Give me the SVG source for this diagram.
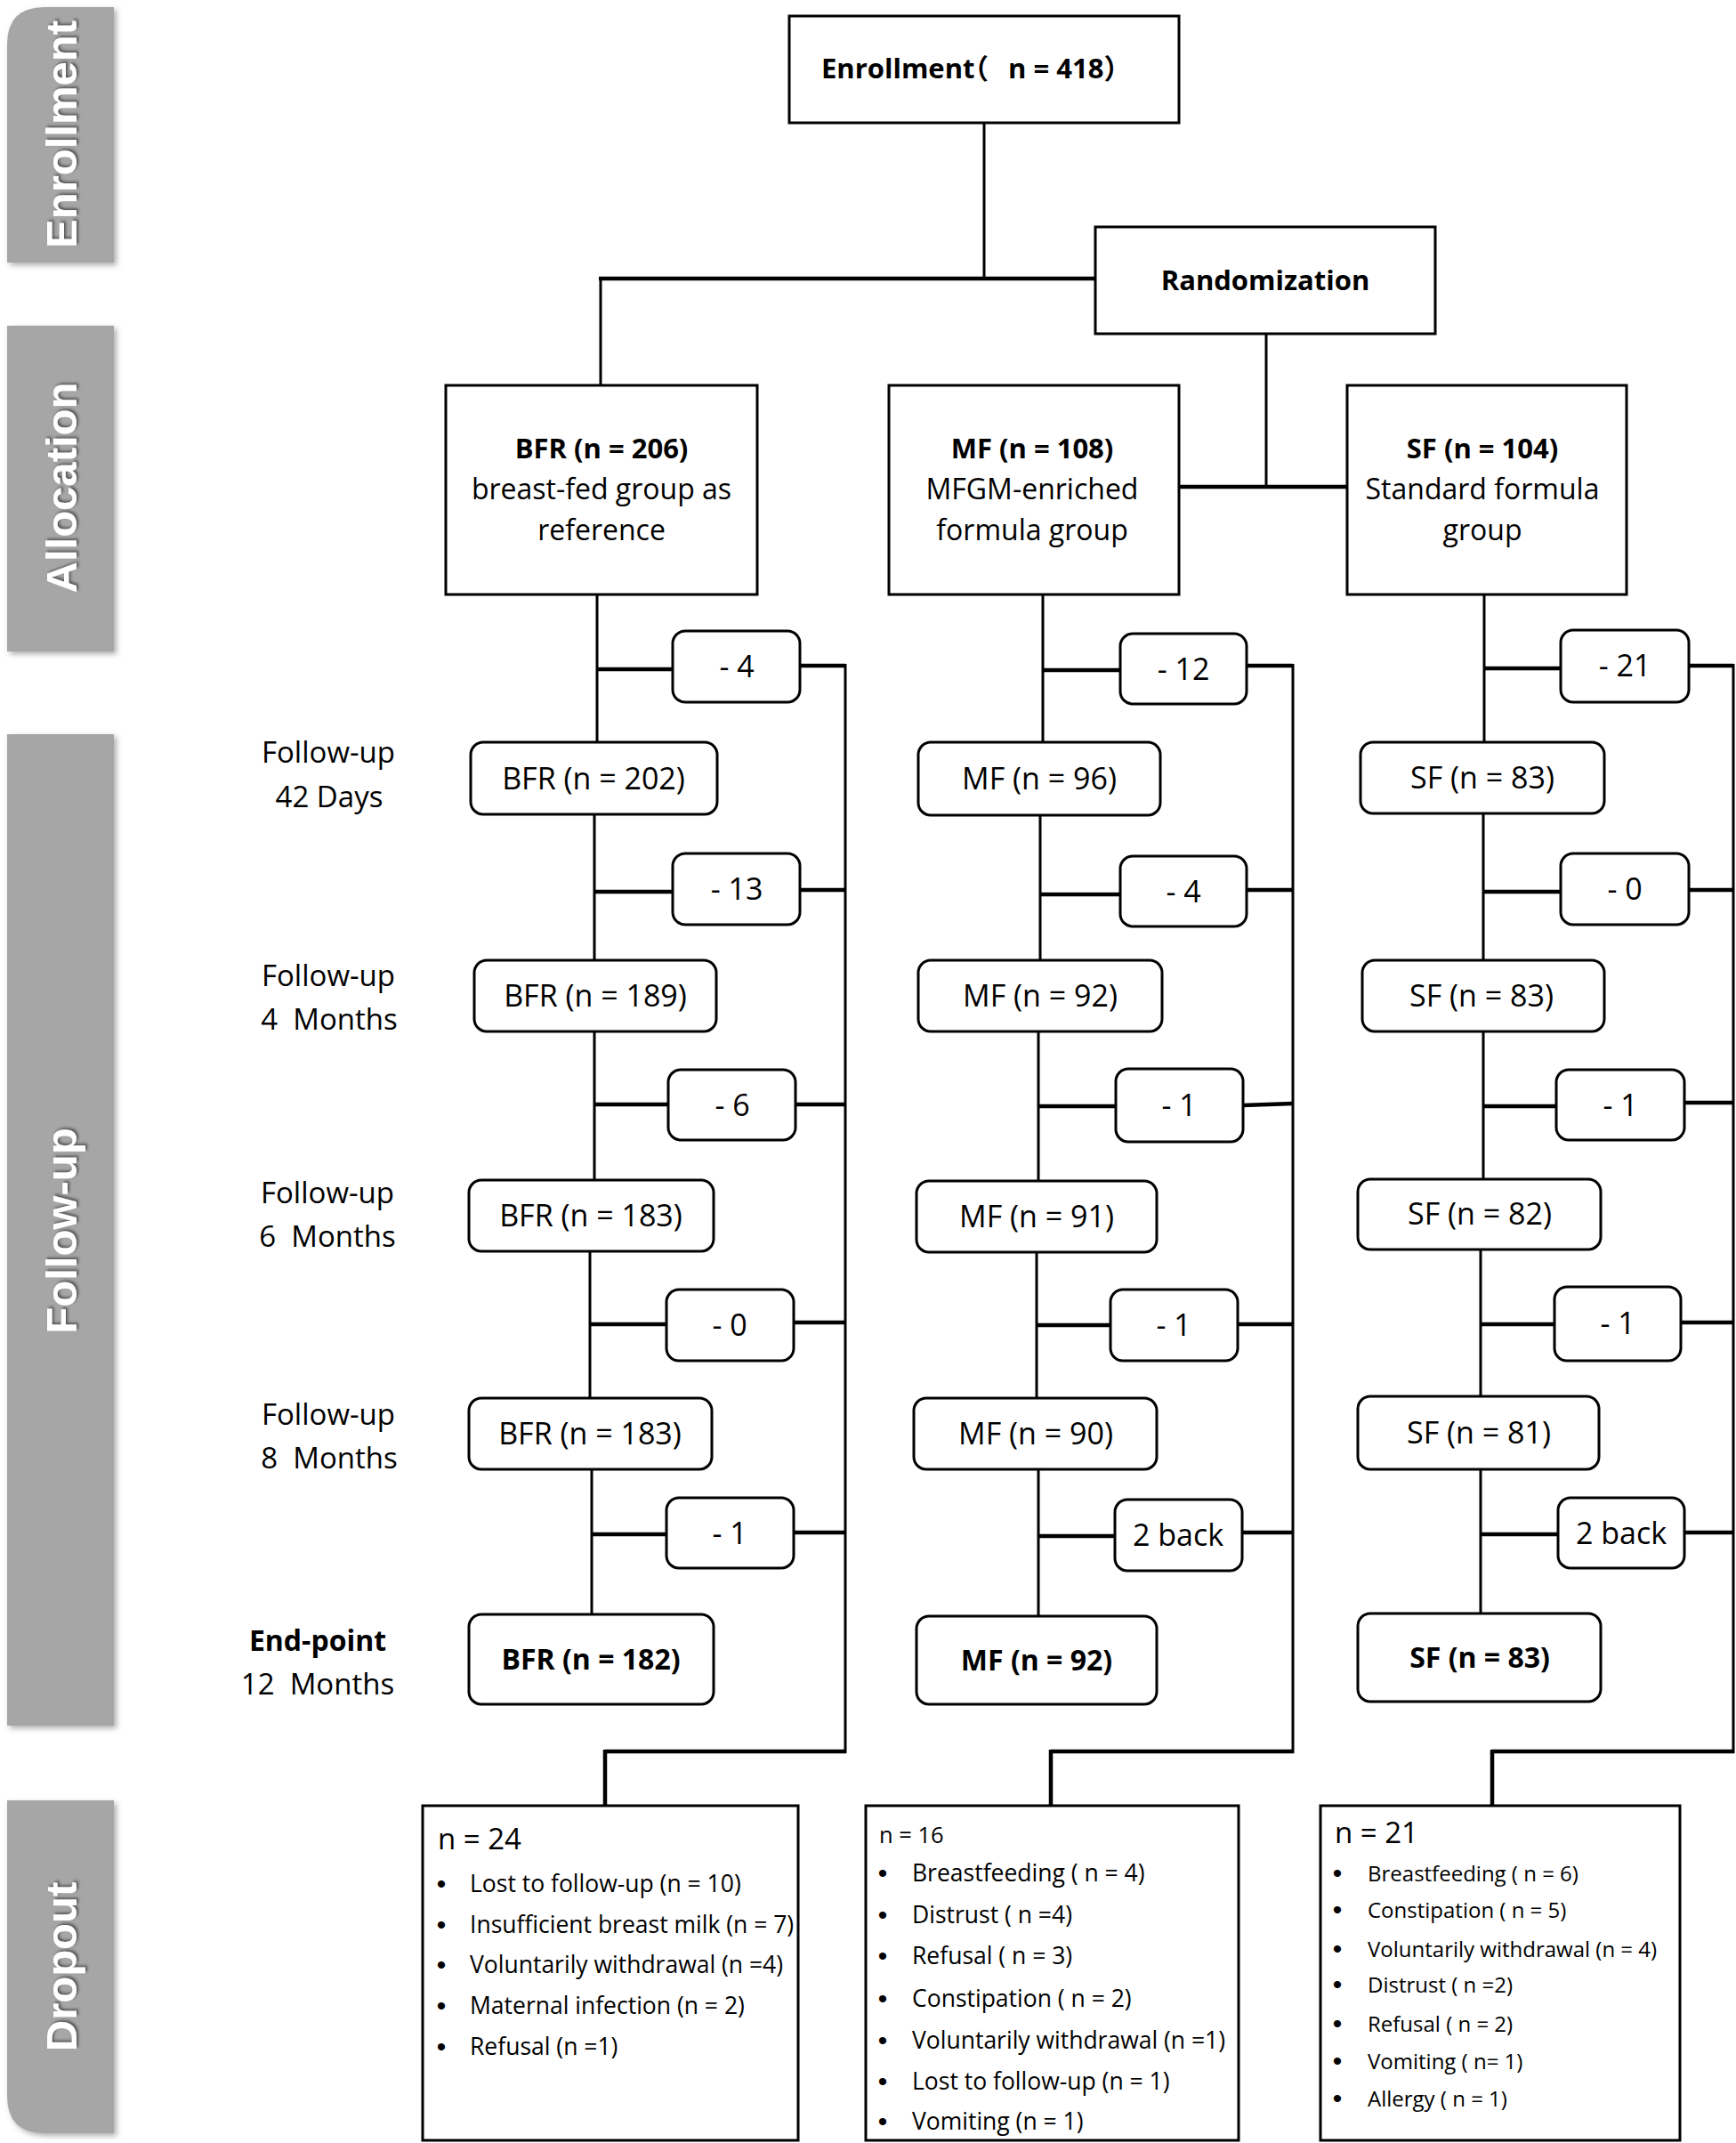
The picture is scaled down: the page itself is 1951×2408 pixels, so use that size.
<svg xmlns="http://www.w3.org/2000/svg" width="1951" height="2408" viewBox="0 0 1951 2408">
<defs>
<filter id="barShadow" x="-20%" y="-5%" width="140%" height="110%">
<feDropShadow dx="3" dy="3" stdDeviation="3" flood-color="#777" flood-opacity="0.6"/>
</filter>
<filter id="txtShadow" x="-20%" y="-20%" width="140%" height="140%">
<feDropShadow dx="2" dy="2" stdDeviation="1.5" flood-color="#333" flood-opacity="0.7"/>
</filter>
</defs>
<style>
.box{fill:#fff;stroke:#000;stroke-width:3}
.v{stroke:#000;stroke-width:3;fill:none}
.h{stroke:#000;stroke-width:4.5;fill:none}
.t{font-family:"Open Sans","Noto Sans CJK SC",sans-serif;fill:#000}
.c{text-anchor:middle}
.b{font-weight:bold}
.bar{fill:#a6a6a6;filter:url(#barShadow)}
.side{font-family:"Liberation Sans",Arial,sans-serif;font-weight:bold;font-size:49px;fill:#fff;text-anchor:middle;filter:url(#txtShadow)}
.lab{font-size:33px}
.fb{font-size:34px}
.al{font-size:32px}
.dl{font-size:26.5px}
.ds{font-size:24px}
.bul{font-family:"Liberation Sans",Arial,sans-serif;font-size:30px;text-anchor:middle;fill:#000}
.halt{font-feature-settings:"halt"}
</style>
<rect width="1951" height="2408" fill="#fff"/>

<g id="phase-bars">
<g id="bar-enrollment">
<path class="bar" d="M8 50 Q8 8 50 8 L128 8 L128 295 L8 295 Z"/>
<text class="side" transform="translate(86,151) rotate(-90)">Enrollment</text>
</g>
<g id="bar-allocation">
<rect class="bar" x="8" y="366" width="120" height="366"/>
<text class="side" transform="translate(86,548) rotate(-90)">Allocation</text>
</g>
<g id="bar-followup">
<rect class="bar" x="8" y="825" width="120" height="1114"/>
<text class="side" transform="translate(86,1383) rotate(-90)">Follow-up</text>
</g>
<g id="bar-dropout">
<path class="bar" d="M8 2023 L128 2023 L128 2397 L50 2397 Q8 2397 8 2355 Z"/>
<text class="side" transform="translate(86,2210) rotate(-90)">Dropout</text>
</g>
</g>

<g id="connectors">
<path class="v" d="M1106 138 V313"/>
<path class="h" d="M673 313 H1231"/>
<path class="v" d="M675 313 V433"/>
<path class="v" d="M1423 375 V547"/>
<path class="h" d="M1325 547 H1514"/>

<path class="v" d="M671 668 V834 M668 915 V1079 M668 1159 V1326 M663 1406 V1571 M665 1651 V1814"/>
<path class="h" d="M671 752 H756 M668 1002 H756 M668 1241 H751 M663 1488 H749 M665 1724 H749"/>
<path class="h" d="M899 748 H950 M899 1000 H950 M894 1241 H950 M892 1486 H950 M892 1722 H950"/>
<path class="v" d="M950 746 V1970"/>
<path class="h" d="M951 1968 H680 M680 1966 V2029"/>

<path class="v" d="M1172 668 V834 M1169 916 V1079 M1167 1159 V1327 M1165 1407 V1571 M1167 1651 V1816"/>
<path class="h" d="M1172 753 H1259 M1169 1005 H1259 M1167 1243 H1254 M1165 1489 H1248 M1167 1726 H1253"/>
<path class="h" d="M1401 748 H1453 M1401 1000 H1453 M1397 1242 L1453 1240 M1391 1488 H1453 M1396 1722 H1453"/>
<path class="v" d="M1453 746 V1970"/>
<path class="h" d="M1454 1968 H1181 M1181 1966 V2029"/>

<path class="v" d="M1668 668 V834 M1667 914 V1079 M1667 1159 V1325 M1664 1404 V1569 M1664 1651 V1813"/>
<path class="h" d="M1668 751 H1754 M1667 1002 H1754 M1667 1243 H1749 M1664 1488 H1747 M1664 1724 H1751"/>
<path class="h" d="M1898 748 H1948 M1898 1000 H1948 M1893 1239 H1948 M1889 1486 H1948 M1893 1722 H1948"/>
<path class="v" d="M1948 746 V1970"/>
<path class="h" d="M1949 1968 H1677 M1677 1966 V2029"/>
</g>

<g id="enrollment">
<rect class="box" x="887" y="18" width="438" height="120"/>
<text class="t b" x="923" y="88" font-size="31">Enrollment<tspan class="halt">（</tspan><tspan dx="14"> n = 418）</tspan></text>
</g>
<g id="randomization">
<rect class="box" x="1231" y="255" width="382" height="120"/>
<text class="t b c" x="1422" y="326" font-size="31">Randomization</text>
</g>

<g id="alloc-bfr">
<rect class="box" x="501" y="433" width="350" height="235"/>
<text class="t c al" x="676" y="515"><tspan class="b" font-size="31">BFR (n = 206)</tspan><tspan x="676" y="561">breast-fed group as</tspan><tspan x="676" y="607">reference</tspan></text>
</g>
<g id="alloc-mf">
<rect class="box" x="999" y="433" width="326" height="235"/>
<text class="t c al" x="1160" y="515"><tspan class="b" font-size="31">MF (n = 108)</tspan><tspan x="1160" y="561">MFGM-enriched</tspan><tspan x="1160" y="607">formula group</tspan></text>
</g>
<g id="alloc-sf">
<rect class="box" x="1514" y="433" width="314" height="235"/>
<text class="t c al" x="1666" y="515"><tspan class="b" font-size="31">SF (n = 104)</tspan><tspan x="1666" y="561">Standard formula</tspan><tspan x="1666" y="607">group</tspan></text>
</g>

<g id="labels">
<text class="t c lab" x="369" y="857">Follow-up</text>
<text class="t c lab" x="370" y="907">42 Days</text>
<text class="t c lab" x="369" y="1108">Follow-up</text>
<text class="t c lab" x="370" y="1157" xml:space="preserve">4  Months</text>
<text class="t c lab" x="368" y="1352">Follow-up</text>
<text class="t c lab" x="368" y="1401" xml:space="preserve">6  Months</text>
<text class="t c lab" x="369" y="1601">Follow-up</text>
<text class="t c lab" x="370" y="1650" xml:space="preserve">8  Months</text>
<text class="t c b" x="357" y="1855" font-size="32">End-point</text>
<text class="t c lab" x="357" y="1904" xml:space="preserve">12  Months</text>
</g>

<g id="bfr-42d"><rect class="box" x="529" y="834" width="277" height="81" rx="14"/><text class="t c fb" x="667" y="887">BFR (n = 202)</text></g>
<g id="bfr-4m"><rect class="box" x="533" y="1079" width="272" height="80" rx="14"/><text class="t c fb" x="669" y="1131">BFR (n = 189)</text></g>
<g id="bfr-6m"><rect class="box" x="527" y="1326" width="275" height="80" rx="14"/><text class="t c fb" x="664" y="1378">BFR (n = 183)</text></g>
<g id="bfr-8m"><rect class="box" x="527" y="1571" width="273" height="80" rx="14"/><text class="t c fb" x="663" y="1623">BFR (n = 183)</text></g>
<g id="bfr-12m"><rect class="box" x="527" y="1814" width="275" height="101" rx="14"/><text class="t c b" x="664" y="1876" font-size="32">BFR (n = 182)</text></g>

<g id="mf-42d"><rect class="box" x="1032" y="834" width="272" height="82" rx="14"/><text class="t c fb" x="1168" y="887">MF (n = 96)</text></g>
<g id="mf-4m"><rect class="box" x="1032" y="1079" width="274" height="80" rx="14"/><text class="t c fb" x="1169" y="1131">MF (n = 92)</text></g>
<g id="mf-6m"><rect class="box" x="1030" y="1327" width="270" height="80" rx="14"/><text class="t c fb" x="1165" y="1379">MF (n = 91)</text></g>
<g id="mf-8m"><rect class="box" x="1027" y="1571" width="273" height="80" rx="14"/><text class="t c fb" x="1164" y="1623">MF (n = 90)</text></g>
<g id="mf-12m"><rect class="box" x="1030" y="1816" width="270" height="99" rx="14"/><text class="t c b" x="1165" y="1877" font-size="32">MF (n = 92)</text></g>

<g id="sf-42d"><rect class="box" x="1529" y="834" width="274" height="80" rx="14"/><text class="t c fb" x="1666" y="886">SF (n = 83)</text></g>
<g id="sf-4m"><rect class="box" x="1531" y="1079" width="272" height="80" rx="14"/><text class="t c fb" x="1665" y="1131">SF (n = 83)</text></g>
<g id="sf-6m"><rect class="box" x="1526" y="1325" width="273" height="79" rx="14"/><text class="t c fb" x="1663" y="1376">SF (n = 82)</text></g>
<g id="sf-8m"><rect class="box" x="1526" y="1569" width="271" height="82" rx="14"/><text class="t c fb" x="1662" y="1622">SF (n = 81)</text></g>
<g id="sf-12m"><rect class="box" x="1526" y="1813" width="273" height="99" rx="14"/><text class="t c b" x="1663" y="1874" font-size="32">SF (n = 83)</text></g>

<g id="bfr-loss-1"><rect class="box" x="756" y="709" width="143" height="80" rx="14"/><text class="t c fb" x="828" y="761">- 4</text></g>
<g id="bfr-loss-2"><rect class="box" x="756" y="959" width="143" height="80" rx="14"/><text class="t c fb" x="828" y="1011">- 13</text></g>
<g id="bfr-loss-3"><rect class="box" x="751" y="1202" width="143" height="79" rx="14"/><text class="t c fb" x="823" y="1254">- 6</text></g>
<g id="bfr-loss-4"><rect class="box" x="749" y="1449" width="143" height="80" rx="14"/><text class="t c fb" x="820" y="1501">- 0</text></g>
<g id="bfr-loss-5"><rect class="box" x="749" y="1683" width="143" height="79" rx="14"/><text class="t c fb" x="820" y="1735">- 1</text></g>

<g id="mf-loss-1"><rect class="box" x="1259" y="712" width="142" height="79" rx="14"/><text class="t c fb" x="1330" y="764">- 12</text></g>
<g id="mf-loss-2"><rect class="box" x="1259" y="962" width="142" height="79" rx="14"/><text class="t c fb" x="1330" y="1014">- 4</text></g>
<g id="mf-loss-3"><rect class="box" x="1254" y="1201" width="143" height="82" rx="14"/><text class="t c fb" x="1325" y="1254">- 1</text></g>
<g id="mf-loss-4"><rect class="box" x="1248" y="1449" width="143" height="80" rx="14"/><text class="t c fb" x="1319" y="1501">- 1</text></g>
<g id="mf-back"><rect class="box" x="1253" y="1685" width="143" height="80" rx="14"/><text class="t c fb" x="1324" y="1737">2 back</text></g>

<g id="sf-loss-1"><rect class="box" x="1754" y="708" width="144" height="81" rx="14"/><text class="t c fb" x="1826" y="760">- 21</text></g>
<g id="sf-loss-2"><rect class="box" x="1754" y="959" width="144" height="80" rx="14"/><text class="t c fb" x="1826" y="1011">- 0</text></g>
<g id="sf-loss-3"><rect class="box" x="1749" y="1202" width="144" height="79" rx="14"/><text class="t c fb" x="1821" y="1254">- 1</text></g>
<g id="sf-loss-4"><rect class="box" x="1747" y="1446" width="142" height="83" rx="14"/><text class="t c fb" x="1818" y="1499">- 1</text></g>
<g id="sf-back"><rect class="box" x="1751" y="1683" width="142" height="79" rx="14"/><text class="t c fb" x="1822" y="1735">2 back</text></g>

<g id="dropout-bfr">
<rect class="box" x="475" y="2029" width="422" height="376"/>
<text class="t" x="492" y="2078" font-size="33">n = 24</text>
<text class="bul" x="496" y="2127">•</text><text class="bul" x="496" y="2173">•</text><text class="bul" x="496" y="2218">•</text><text class="bul" x="496" y="2264">•</text><text class="bul" x="496" y="2310">•</text>
<g class="t dl">
<text x="528" y="2126">Lost to follow-up (n = 10)</text>
<text x="528" y="2172">Insufficient breast milk (n = 7)</text>
<text x="528" y="2217">Voluntarily withdrawal (n =4)</text>
<text x="528" y="2263">Maternal infection (n = 2)</text>
<text x="528" y="2309">Refusal (n =1)</text>
</g>
</g>

<g id="dropout-mf">
<rect class="box" x="973" y="2029" width="419" height="376"/>
<text class="t" x="988" y="2071" font-size="25.5">n = 16</text>
<text class="bul" x="992" y="2115">•</text><text class="bul" x="992" y="2162">•</text><text class="bul" x="992" y="2208">•</text><text class="bul" x="992" y="2256">•</text><text class="bul" x="992" y="2303">•</text><text class="bul" x="992" y="2349">•</text><text class="bul" x="992" y="2394">•</text>
<g class="t dl">
<text x="1025" y="2114">Breastfeeding ( n = 4)</text>
<text x="1025" y="2161">Distrust ( n =4)</text>
<text x="1025" y="2207">Refusal ( n = 3)</text>
<text x="1025" y="2255">Constipation ( n = 2)</text>
<text x="1025" y="2302">Voluntarily withdrawal (n =1)</text>
<text x="1025" y="2348">Lost to follow-up (n = 1)</text>
<text x="1025" y="2393">Vomiting (n = 1)</text>
</g>
</g>

<g id="dropout-sf">
<rect class="box" x="1484" y="2029" width="404" height="376"/>
<text class="t" x="1500" y="2071" font-size="33">n = 21</text>
<text class="bul" x="1503" y="2115">•</text><text class="bul" x="1503" y="2156">•</text><text class="bul" x="1503" y="2200">•</text><text class="bul" x="1503" y="2240">•</text><text class="bul" x="1503" y="2284">•</text><text class="bul" x="1503" y="2326">•</text><text class="bul" x="1503" y="2368">•</text>
<g class="t ds">
<text x="1537" y="2114">Breastfeeding ( n = 6)</text>
<text x="1537" y="2155">Constipation ( n = 5)</text>
<text x="1537" y="2199">Voluntarily withdrawal (n = 4)</text>
<text x="1537" y="2239">Distrust ( n =2)</text>
<text x="1537" y="2283">Refusal ( n = 2)</text>
<text x="1537" y="2325">Vomiting ( n= 1)</text>
<text x="1537" y="2367">Allergy ( n = 1)</text>
</g>
</g>
</svg>
